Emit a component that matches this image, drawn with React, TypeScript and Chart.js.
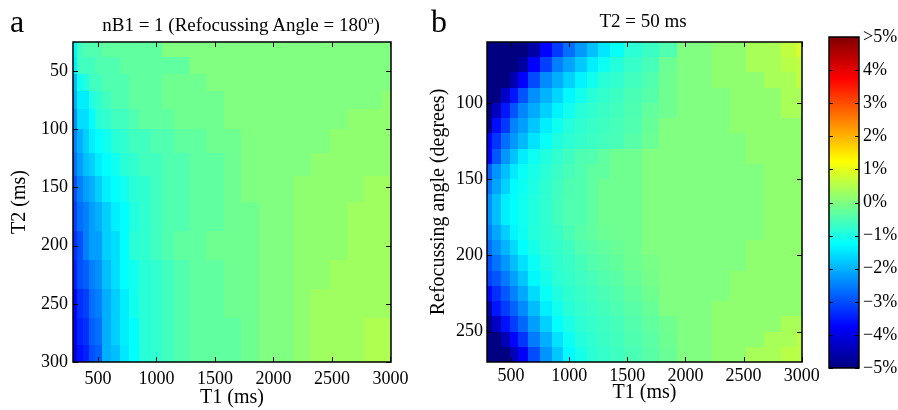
import React, { useEffect, useRef } from 'react';
import { Chart, registerables } from 'chart.js';
Chart.register(...registerables);

const FONT = '"Liberation Serif", "Times New Roman", serif';

// ---------- Panel a : nB1 = 1 (values in %) ----------
const leftT1 = [300, 350, 400, 450, 500, 575, 650, 725, 800, 900, 1000, 1100, 1200, 1350, 1500, 1650, 1800, 1950, 2100, 2250, 2400, 2550, 2700, 2850, 3000];
const leftT2 = [30, 45, 60, 75, 90, 110, 130, 150, 175, 200, 225, 250, 275, 295];
const leftValues = [
  [-1.32, -0.62, -0.47, -0.47, -0.47, -0.31, -0.31, -0.31, -0.31, -0.31, -0.31, 0, 0, 0, 0, 0, 0, 0, 0, 0, 0, 0, 0, 0, 0],
  [-1.40, -0.62, -0.62, -0.62, -0.47, -0.47, -0.47, -0.31, -0.31, -0.31, -0.31, -0.31, -0.31, 0, 0, 0, 0, 0, 0, 0, 0, 0, 0, 0, 0],
  [-1.88, -1.09, -0.94, -0.62, -0.62, -0.47, -0.47, -0.47, -0.31, -0.31, -0.31, -0.16, -0.16, -0.16, 0, 0, 0, 0, 0, 0, 0, 0, 0, 0, 0],
  [-2.03, -1.41, -1.41, -0.94, -0.78, -0.62, -0.47, -0.47, -0.31, -0.31, -0.31, -0.16, -0.16, -0.16, -0.16, 0, 0, 0, 0, 0, 0, 0, 0, 0, 0.16],
  [-2.34, -1.56, -1.56, -1.25, -0.86, -0.78, -0.62, -0.62, -0.47, -0.31, -0.31, -0.31, -0.16, -0.16, -0.16, 0, 0, 0, 0, 0, 0, 0, 0.16, 0.16, 0.16],
  [-2.50, -2.03, -1.72, -1.41, -1.25, -1.09, -0.86, -0.78, -0.62, -0.62, -0.47, -0.47, -0.31, -0.31, -0.16, -0.16, 0, 0, 0, 0, 0, 0.16, 0.16, 0.16, 0.16],
  [-2.66, -2.19, -1.88, -1.72, -1.41, -1.25, -1.09, -0.86, -0.78, -0.62, -0.62, -0.47, -0.47, -0.31, -0.31, -0.16, 0, 0, 0, 0, 0.16, 0.16, 0.16, 0.16, 0.16],
  [-2.97, -2.50, -2.19, -2.03, -1.72, -1.41, -1.25, -1.09, -0.86, -0.78, -0.62, -0.47, -0.47, -0.31, -0.31, -0.16, 0, 0, 0, 0.16, 0.16, 0.16, 0.16, 0.31, 0.31],
  [-3.13, -2.66, -2.50, -2.19, -2.03, -1.72, -1.41, -1.25, -0.94, -0.78, -0.62, -0.47, -0.47, -0.31, -0.31, -0.16, -0.16, 0, 0, 0.16, 0.16, 0.16, 0.31, 0.31, 0.31],
  [-3.28, -2.97, -2.50, -2.19, -2.19, -1.72, -1.56, -1.25, -0.86, -0.78, -0.62, -0.47, -0.31, -0.31, -0.16, -0.16, -0.16, 0, 0, 0.16, 0.16, 0.16, 0.31, 0.31, 0.31],
  [-3.44, -2.97, -2.81, -2.50, -2.34, -1.88, -1.56, -1.25, -1.09, -0.86, -0.78, -0.62, -0.47, -0.31, -0.31, -0.16, -0.16, 0, 0, 0.16, 0.16, 0.31, 0.31, 0.31, 0.31],
  [-3.75, -3.28, -3.13, -2.66, -2.50, -2.03, -1.72, -1.41, -1.09, -0.86, -0.78, -0.62, -0.47, -0.31, -0.31, -0.16, -0.16, 0, 0, 0.16, 0.31, 0.31, 0.31, 0.31, 0.31],
  [-3.91, -3.44, -3.28, -2.81, -2.66, -2.03, -1.72, -1.41, -1.25, -0.86, -0.78, -0.62, -0.47, -0.31, -0.31, -0.31, -0.16, 0, 0, 0.16, 0.31, 0.31, 0.31, 0.47, 0.47],
  [-4.06, -3.59, -3.44, -2.97, -2.81, -2.03, -1.88, -1.48, -1.25, -0.86, -0.78, -0.62, -0.47, -0.31, -0.31, -0.31, -0.16, 0, 0, 0.16, 0.31, 0.31, 0.31, 0.47, 0.47],
];
const leftXTicks = [500, 1000, 1500, 2000, 2500, 3000];
const leftYTicks = [50, 100, 150, 200, 250, 300];

// ---------- Panel b : T2 = 50 ms (values in %) ----------
const rightT1 = [300, 375, 450, 525, 600, 700, 800, 900, 1000, 1100, 1200, 1300, 1400, 1550, 1700, 1850, 2000, 2150, 2300, 2450, 2600, 2750, 2900, 3000];
const rightAngle = [65, 75, 85, 95, 105, 115, 125, 135, 145, 155, 165, 175, 185, 195, 205, 215, 225, 235, 245, 255, 265];
const rightValues = [
  [-5, -5, -5, -5, -5, -4.59, -3.72, -3.19, -2.66, -2.24, -1.87, -1.49, -1.17, -0.84, -0.68, -0.47, 0, 0, 0.16, 0.16, 0.39, 0.39, 0.62, 0.86],
  [-5, -5, -5, -5, -4.67, -3.75, -3.13, -2.5, -2.14, -1.78, -1.41, -1.13, -0.9, -0.72, -0.56, -0.2, 0, 0, 0.16, 0.16, 0.39, 0.39, 0.55, 0.62],
  [-5, -5, -5, -4.5, -3.75, -3.01, -2.4, -2.05, -1.7, -1.35, -1.09, -0.87, -0.76, -0.61, -0.47, -0.16, 0, 0, 0.16, 0.16, 0.16, 0.39, 0.39, 0.62],
  [-5, -5, -4.27, -3.55, -2.94, -2.35, -2.0, -1.66, -1.32, -1.07, -0.86, -0.75, -0.66, -0.53, -0.41, -0.16, 0, 0, 0, 0.16, 0.16, 0.16, 0.39, 0.39],
  [-5, -4.37, -3.52, -2.93, -2.43, -2.07, -1.71, -1.36, -1.09, -0.87, -0.77, -0.68, -0.6, -0.49, -0.3, -0.16, 0, 0, 0, 0.16, 0.16, 0.16, 0.39, 0.39],
  [-4.85, -3.63, -3.2, -2.48, -2.19, -1.8, -1.41, -1.12, -0.91, -0.79, -0.7, -0.63, -0.57, -0.47, -0.24, 0, 0, 0, 0, 0.16, 0.16, 0.16, 0.16, 0.16],
  [-3.83, -3.24, -2.66, -2.26, -1.94, -1.51, -1.17, -0.95, -0.82, -0.74, -0.66, -0.6, -0.54, -0.4, -0.2, 0, 0, 0, 0, 0, 0.16, 0.16, 0.16, 0.16],
  [-3.75, -2.9, -2.27, -1.85, -1.42, -1.12, -0.94, -0.77, -0.64, -0.49, -0.47, -0.31, -0.16, -0.16, 0, 0, 0, 0, 0, 0, 0.16, 0.16, 0.16, 0.16],
  [-2.85, -2.3, -1.88, -1.45, -1.18, -1.01, -0.84, -0.69, -0.55, -0.47, -0.31, -0.31, -0.16, -0.16, 0, 0, 0, 0, 0, 0, 0, 0.16, 0.16, 0.16],
  [-2.6, -2.13, -1.7, -1.28, -1.13, -0.97, -0.8, -0.64, -0.48, -0.47, -0.31, -0.16, -0.16, -0.16, 0, 0, 0, 0, 0, 0, 0, 0.16, 0.16, 0.16],
  [-2.34, -1.88, -1.41, -1.25, -1.09, -0.94, -0.78, -0.62, -0.47, -0.47, -0.31, -0.16, -0.16, -0.16, 0, 0, 0, 0, 0, 0, 0, 0.16, 0.16, 0.16],
  [-2.34, -1.88, -1.41, -1.25, -1.09, -0.94, -0.78, -0.62, -0.47, -0.47, -0.31, -0.16, -0.16, -0.16, 0, 0, 0, 0, 0, 0, 0, 0.16, 0.16, 0.16],
  [-2.5, -2.11, -1.72, -1.33, -1.12, -0.9, -0.79, -0.69, -0.53, -0.4, -0.31, -0.2, -0.16, -0.16, 0, 0, 0, 0, 0, 0, 0, 0.16, 0.16, 0.16],
  [-2.69, -2.33, -1.97, -1.61, -1.25, -1.03, -0.84, -0.75, -0.64, -0.47, -0.39, -0.31, -0.23, -0.16, 0, 0, 0, 0, 0, 0, 0.16, 0.16, 0.16, 0.16],
  [-2.98, -2.62, -2.26, -1.9, -1.54, -1.16, -0.93, -0.79, -0.7, -0.58, -0.45, -0.37, -0.29, -0.17, -0.08, 0, 0, 0, 0, 0, 0.16, 0.16, 0.16, 0.16],
  [-3.1, -2.92, -2.55, -2.18, -1.81, -1.32, -1.05, -0.84, -0.74, -0.64, -0.54, -0.45, -0.37, -0.24, -0.1, 0, 0, 0, 0, 0.16, 0.16, 0.16, 0.16, 0.16],
  [-3.7, -3.29, -2.88, -2.48, -2.1, -1.6, -1.18, -0.95, -0.8, -0.71, -0.61, -0.52, -0.44, -0.32, -0.16, 0, 0, 0, 0, 0.16, 0.16, 0.16, 0.16, 0.16],
  [-4.58, -3.53, -3.15, -2.78, -2.4, -1.9, -1.4, -1.09, -0.86, -0.76, -0.67, -0.59, -0.5, -0.38, -0.24, 0, 0, 0, 0.16, 0.16, 0.16, 0.16, 0.16, 0.16],
  [-5, -4.33, -3.58, -3.15, -2.73, -2.2, -1.7, -1.23, -1.0, -0.82, -0.73, -0.64, -0.57, -0.44, -0.31, -0.16, 0, 0, 0.16, 0.16, 0.16, 0.16, 0.39, 0.39],
  [-5, -5, -4.45, -3.72, -3.24, -2.53, -2.03, -1.53, -1.14, -0.91, -0.78, -0.68, -0.6, -0.48, -0.35, -0.17, 0, 0, 0.16, 0.16, 0.16, 0.39, 0.39, 0.55],
  [-5, -5, -5, -4.42, -3.83, -3.0, -2.3, -1.79, -1.28, -1.03, -0.83, -0.73, -0.64, -0.52, -0.39, -0.22, 0, 0, 0.16, 0.16, 0.39, 0.39, 0.55, 0.55],
];
const rightXTicks = [500, 1000, 1500, 2000, 2500, 3000];
const rightYTicks = [100, 150, 200, 250];

// ---------- Colour bar ----------
const colorbarTicks = [-5, -4, -3, -2, -1, 0, 1, 2, 3, 4, 5];
const colorbarLabels = ['\u22125%', '\u22124%', '\u22123%', '\u22122%', '\u22121%', '0%', '1%', '2%', '3%', '4%', '>5%'];

function jet(v: number): string {
  const t = Math.min(1, Math.max(0, (v + 5) / 10));
  const f = (x: number) => Math.round(255 * Math.min(1, Math.max(0, 1.5 - Math.abs(x))));
  return `rgb(${f(4 * t - 3)},${f(4 * t - 2)},${f(4 * t - 1)})`;
}

function centersToEdges(c: number[]): number[] {
  const e = [c[0] - (c[1] - c[0]) / 2];
  for (let i = 0; i < c.length - 1; i++) e.push((c[i] + c[i + 1]) / 2);
  e.push(c[c.length - 1] + (c[c.length - 1] - c[c.length - 2]) / 2);
  return e;
}

function heatmapPlugin(xs: number[], ys: number[], vals: number[][]) {
  return {
    id: 'heatmap',
    beforeDatasetsDraw(chart: any) {
      const { ctx, chartArea: a, scales } = chart;
      const sx = scales.x, sy = scales.y;
      const xe = centersToEdges(xs), ye = centersToEdges(ys);
      ctx.save();
      ctx.beginPath();
      ctx.rect(a.left, a.top, a.right - a.left, a.bottom - a.top);
      ctx.clip();
      for (let j = 0; j < ys.length; j++) {
        const y0 = Math.round(sy.getPixelForValue(ye[j]));
        const y1 = Math.round(sy.getPixelForValue(ye[j + 1]));
        for (let i = 0; i < xs.length; i++) {
          const x0 = Math.round(sx.getPixelForValue(xe[i]));
          const x1 = Math.round(sx.getPixelForValue(xe[i + 1]));
          ctx.fillStyle = jet(vals[j][i]);
          ctx.fillRect(Math.min(x0, x1), Math.min(y0, y1), Math.abs(x1 - x0), Math.abs(y1 - y0));
        }
      }
      ctx.restore();
    },
  };
}

const framePlugin = {
  id: 'frame',
  afterDraw(chart: any) {
    const { ctx, chartArea: a, scales } = chart;
    const len = 5;
    ctx.save();
    ctx.strokeStyle = '#000';
    ctx.lineWidth = 1;
    ctx.beginPath();
    for (const t of scales.x.ticks) {
      const p = Math.round(scales.x.getPixelForValue(t.value)) + 0.5;
      ctx.moveTo(p, a.bottom); ctx.lineTo(p, a.bottom - len);
      ctx.moveTo(p, a.top); ctx.lineTo(p, a.top + len);
    }
    for (const t of scales.y.ticks) {
      const p = Math.round(scales.y.getPixelForValue(t.value)) + 0.5;
      ctx.moveTo(a.left, p); ctx.lineTo(a.left + len, p);
      ctx.moveTo(a.right, p); ctx.lineTo(a.right - len, p);
    }
    ctx.stroke();
    ctx.lineWidth = 1.5;
    ctx.strokeRect(a.left, a.top, a.right - a.left, a.bottom - a.top);
    ctx.restore();
  },
};

const colorbarPlugin = {
  id: 'colorbar',
  beforeDatasetsDraw(chart: any) {
    const { ctx, chartArea: a, scales } = chart;
    const sy = scales.y;
    ctx.save();
    for (let py = Math.round(a.top); py < Math.round(a.bottom); py++) {
      ctx.fillStyle = jet(sy.getValueForPixel(py + 0.5));
      ctx.fillRect(a.left, py, a.right - a.left, 1);
    }
    ctx.restore();
  },
  afterDraw(chart: any) {
    const { ctx, chartArea: a, scales } = chart;
    const len = 4;
    ctx.save();
    ctx.strokeStyle = '#000';
    ctx.lineWidth = 1;
    ctx.beginPath();
    for (const t of scales.y.ticks) {
      const p = Math.round(scales.y.getPixelForValue(t.value)) + 0.5;
      ctx.moveTo(a.left, p); ctx.lineTo(a.left + len, p);
      ctx.moveTo(a.right, p); ctx.lineTo(a.right - len, p);
    }
    ctx.stroke();
    ctx.lineWidth = 1.5;
    ctx.strokeRect(a.left, a.top, a.right - a.left, a.bottom - a.top);
    ctx.restore();
  },
};

function panelConfig(p: any): any {
  return {
    type: 'scatter',
    data: { datasets: [] },
    options: {
      animation: false,
      responsive: false,
      devicePixelRatio: 1,
      events: [],
      layout: { padding: p.padding },
      plugins: { legend: { display: false }, title: { display: false }, tooltip: { enabled: false } },
      scales: {
        x: {
          type: 'linear', position: 'bottom', min: p.xMin, max: p.xMax,
          grid: { display: false, drawTicks: false }, border: { display: false },
          afterBuildTicks: (s: any) => { s.ticks = p.xTicks.map((v: number) => ({ value: v })); },
          afterFit: (s: any) => { s.height = p.xHeight; },
          ticks: { font: { family: FONT, size: 18 }, color: '#000', padding: p.xTickPad, maxRotation: 0, autoSkip: false, callback: (v: any) => String(v) },
          title: { display: true, text: p.xTitle, font: { family: FONT, size: 20 }, color: '#000', padding: { top: 0, bottom: p.xTitlePad } },
        },
        y: {
          type: 'linear', position: 'left', reverse: true, min: p.yMin, max: p.yMax,
          grid: { display: false, drawTicks: false }, border: { display: false },
          afterBuildTicks: (s: any) => { s.ticks = p.yTicks.map((v: number) => ({ value: v })); },
          afterFit: (s: any) => { s.width = p.yWidth; },
          ticks: { font: { family: FONT, size: 18 }, color: '#000', padding: p.yTickPad, autoSkip: false, callback: (v: any) => String(v) },
          title: { display: true, text: p.yTitle, font: { family: FONT, size: 20 }, color: '#000', padding: { top: p.yTitlePad, bottom: 0 } },
        },
      },
    },
    plugins: [p.heat, framePlugin],
  };
}

export default function App() {
  const leftRef = useRef<HTMLCanvasElement>(null);
  const rightRef = useRef<HTMLCanvasElement>(null);
  const cbRef = useRef<HTMLCanvasElement>(null);

  useEffect(() => {
    const left = new Chart(leftRef.current as HTMLCanvasElement, panelConfig({
      padding: { left: 0, right: 29, top: 42, bottom: 0 },
      xMin: 287, xMax: 3005, yMin: 25, yMax: 300,
      xTicks: leftXTicks, yTicks: leftYTicks,
      xHeight: 48, yWidth: 73, xTickPad: 6, yTickPad: 5,
      xTitle: 'T1 (ms)', yTitle: 'T2 (ms)', xTitlePad: 0, yTitlePad: 8,
      heat: heatmapPlugin(leftT1, leftT2, leftValues),
    }));
    const right = new Chart(rightRef.current as HTMLCanvasElement, panelConfig({
      padding: { left: 0, right: 28, top: 42, bottom: 0 },
      xMin: 293, xMax: 3003, yMin: 60, yMax: 270,
      xTicks: rightXTicks, yTicks: rightYTicks,
      xHeight: 48, yWidth: 67, xTickPad: 3, yTickPad: 4,
      xTitle: 'T1 (ms)', yTitle: 'Refocussing angle (degrees)', xTitlePad: 5, yTitlePad: 7,
      heat: heatmapPlugin(rightT1, rightAngle, rightValues),
    }));
    const cb = new Chart(cbRef.current as HTMLCanvasElement, {
      type: 'scatter',
      data: { datasets: [] },
      options: {
        animation: false,
        responsive: false,
        devicePixelRatio: 1,
        events: [],
        layout: { padding: { left: 9, right: 0, top: 37, bottom: 42 } },
        plugins: { legend: { display: false }, title: { display: false }, tooltip: { enabled: false } },
        scales: {
          x: { type: 'linear', display: false, min: 0, max: 1 },
          y: {
            type: 'linear', position: 'right', min: -5, max: 5,
            grid: { display: false, drawTicks: false }, border: { display: false },
            afterBuildTicks: (s: any) => { s.ticks = colorbarTicks.map((v) => ({ value: v })); },
            afterFit: (s: any) => { s.width = 39; },
            ticks: { font: { family: FONT, size: 18 }, color: '#000', padding: 4, autoSkip: false,
              callback: (v: any) => colorbarLabels[colorbarTicks.indexOf(Number(v))] },
          },
        },
      },
      plugins: [colorbarPlugin],
    } as any);
    return () => { left.destroy(); right.destroy(); cb.destroy(); };
  }, []);

  const abs: React.CSSProperties = { position: 'absolute', whiteSpace: 'nowrap', fontFamily: FONT, color: '#000' };
  return (
    <div style={{ position: 'absolute', left: 0, top: 0, width: 898, height: 410, background: '#fff', overflow: 'hidden' }}>
      <canvas ref={leftRef} width={420} height={410} style={{ position: 'absolute', left: 0, top: 0 }} />
      <canvas ref={rightRef} width={410} height={410} style={{ position: 'absolute', left: 420, top: 0 }} />
      <canvas ref={cbRef} width={78} height={410} style={{ position: 'absolute', left: 820, top: 0 }} />
      <div style={{ ...abs, left: 10, top: 5, fontSize: 32, lineHeight: '32px' }}>a</div>
      <div style={{ ...abs, left: 431, top: 5, fontSize: 32, lineHeight: '32px' }}>b</div>
      <div style={{ ...abs, left: 241, top: 11, fontSize: 19, lineHeight: '19px', transform: 'translateX(-50%)' }}>
        nB1 = 1 (Refocussing Angle = 180<span style={{ fontSize: 12, verticalAlign: 7 }}>o</span>)
      </div>
      <div style={{ ...abs, left: 643, top: 11, fontSize: 19, lineHeight: '19px', transform: 'translateX(-50%)' }}>
        T2 = 50 ms
      </div>
    </div>
  );
}
